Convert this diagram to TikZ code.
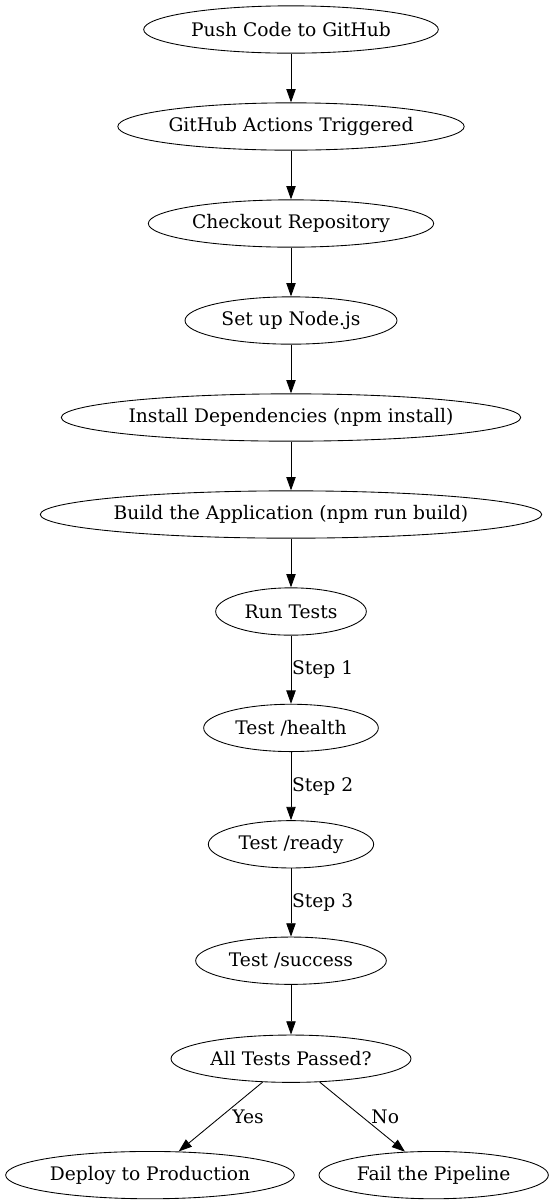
\documentclass[tikz,border=0pt]{standalone}
\usepackage{fontspec}
\setmainfont{DejaVu Serif}
\usepackage{tikz}
\usetikzlibrary{arrows.meta,positioning,shapes.geometric}

\begin{document}
\begin{tikzpicture}[
    x=0.75pt, y=-0.75pt,
    node distance=72.75pt,
    >={Triangle[length=10pt,width=7pt]},
    font=\fontsize{14}{16}\selectfont,
    line width=0.65pt,
    stage/.style={
		ellipse,
		draw=black,
		inner sep=0pt,
		text centered,
		minimum height=35.5pt
	},
	edgelabel/.style={
		anchor=west,
		inner sep=0.5pt
	}
  ]
  \useasboundingbox (0,0) rectangle (555,1204);
    % the pipeline, top to bottom

  \node [stage, minimum width=221pt] (push) at (291,29.5) {Push Code to GitHub};
  \node [stage, minimum width=259pt, below of=push] (trigger) {GitHub Actions Triggered};
  \node [stage, minimum width=214pt, below of=trigger] (checkout) {Checkout Repository};
  \node [stage, minimum width=159pt, below of=checkout] (setup) {Set up Node.js};
  \node [stage, minimum width=340pt, below of=setup] (install) {Install Dependencies (npm install)};
  \node [stage, minimum width=368pt, below of=install] (build) {Build the Application (npm run build)};
  \node [stage, minimum width=113pt, below of=build] (runtests) {Run Tests};

  % test steps with labelled edges
  \node [stage, minimum width=131pt, below of=runtests, node distance=87.3pt] (health) {Test /health};
  \node [stage, minimum width=124pt, below of=health, node distance=87.3pt] (ready) {Test /ready};
  \node [stage, minimum width=143pt, below of=ready, node distance=87.3pt] (success) {Test /success};

  \node [stage, minimum width=180pt, below of=success, node distance=73.5pt] (passed) {All Tests Passed?};
  \node [stage, minimum width=216.5pt, below of=passed, node distance=87.3pt, xshift=-105.75pt] (deploy) {Deploy to Production};
  \node [stage, minimum width=172pt, below of=passed, node distance=87.3pt, xshift=107pt] (fail) {Fail the Pipeline};

 \draw [->] (push) -- (trigger);
 \draw [->] (trigger) -- (checkout);
 \draw [->] (checkout) -- (setup);
 \draw [->] (setup) -- (install);
 \draw [->] (install) -- (build);
 \draw [->] (build) -- (runtests);
 \draw [->] (runtests) -- node [edgelabel] {Step 1} (health);
 \draw [->] (health) -- node [edgelabel] {Step 2} (ready);
 \draw [->] (ready) -- node [edgelabel] {Step 3} (success);
 \draw [->] (success) -- (passed);
 \draw [->] (passed) -- node [edgelabel, xshift=8pt] {Yes} (deploy);
 \draw [->] (passed) -- node [edgelabel, xshift=6pt] {No} (fail);

\end{tikzpicture}
\end{document}
